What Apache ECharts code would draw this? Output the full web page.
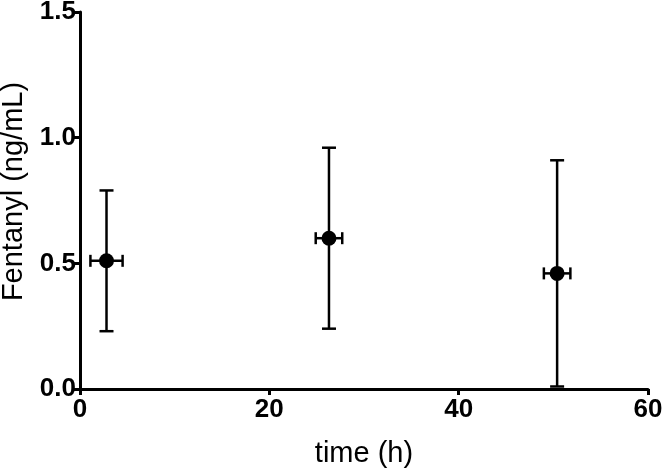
<!DOCTYPE html>
<html>
<head>
<meta charset="utf-8">
<script src="https://cdn.jsdelivr.net/npm/echarts@6/dist/echarts.min.js"></script>
<style>html,body{margin:0;padding:0;background:#fff}#c{width:663px;height:469px}</style>
</head>
<body>
<div id="c"></div>
<script>
var times = [2.8, 26.3, 50.4];
var timeErr = [1.7, 1.4, 1.4];
var means = [0.51, 0.60, 0.46];
var lowers = [0.23, 0.24, 0.01];
var uppers = [0.79, 0.96, 0.91];
var xTicks = [0, 20, 40, 60];
var yTicks = [0.0, 0.5, 1.0, 1.5];

var pts = times.map(function (t, i) { return [t, means[i]]; });
var errData = times.map(function (t, i) { return [t, means[i], timeErr[i], lowers[i], uppers[i]]; });

var chart = echarts.init(document.getElementById('c'));
var FONT = '"Liberation Sans", Arial, sans-serif';
chart.setOption({
  animation: false,
  grid: { left: 80, right: 15, top: 12, bottom: 80, containLabel: false, outerBoundsMode: 'none' },
  xAxis: {
    type: 'value', min: xTicks[0], max: xTicks[xTicks.length - 1], interval: 20,
    name: 'time (h)', nameLocation: 'middle', nameGap: 50,
    nameTextStyle: { fontFamily: FONT, fontSize: 29, color: '#000' },
    axisLine: { show: true, lineStyle: { color: '#000', width: 3 } },
    axisTick: { show: true, length: 6, lineStyle: { color: '#000', width: 3 } },
    axisLabel: { fontFamily: FONT, fontWeight: 'bold', fontSize: 26, color: '#000', margin: 8 },
    splitLine: { show: false }
  },
  yAxis: {
    type: 'value', min: yTicks[0], max: yTicks[yTicks.length - 1], interval: 0.5,
    name: 'Fentanyl (ng/mL)', nameLocation: 'middle', nameGap: 52,
    nameTextStyle: { fontFamily: FONT, fontSize: 29, color: '#000', padding: [0, 0, 0, 18] },
    axisLine: { show: true, lineStyle: { color: '#000', width: 3 } },
    axisTick: { show: true, length: 6, lineStyle: { color: '#000', width: 3 } },
    axisLabel: { fontFamily: FONT, fontWeight: 'bold', fontSize: 26, color: '#000', margin: 4,
      formatter: function (v) { return v.toFixed(1); } },
    splitLine: { show: false }
  },
  series: [
    {
      type: 'custom',
      data: errData,
      z: 3,
      renderItem: function (params, api) {
        var x = api.value(0), y = api.value(1), xe = api.value(2), lo = api.value(3), hi = api.value(4);
        var pLo = api.coord([x, lo]);
        var pHi = api.coord([x, hi]);
        var pL = api.coord([x - xe, y]);
        var pR = api.coord([x + xe, y]);
        var cw = 7, ch = 6;
        var st = { stroke: '#000', lineWidth: 2.5 };
        return {
          type: 'group',
          children: [
            { type: 'line', shape: { x1: pLo[0], y1: pLo[1], x2: pHi[0], y2: pHi[1] }, style: st },
            { type: 'line', shape: { x1: pLo[0] - cw, y1: pLo[1], x2: pLo[0] + cw, y2: pLo[1] }, style: st },
            { type: 'line', shape: { x1: pHi[0] - cw, y1: pHi[1], x2: pHi[0] + cw, y2: pHi[1] }, style: st },
            { type: 'line', shape: { x1: pL[0], y1: pL[1], x2: pR[0], y2: pR[1] }, style: st },
            { type: 'line', shape: { x1: pL[0], y1: pL[1] - ch, x2: pL[0], y2: pL[1] + ch }, style: st },
            { type: 'line', shape: { x1: pR[0], y1: pR[1] - ch, x2: pR[0], y2: pR[1] + ch }, style: st }
          ]
        };
      }
    },
    {
      type: 'scatter',
      data: pts,
      symbol: 'circle',
      symbolSize: 15,
      itemStyle: { color: '#000', opacity: 1 },
      z: 4
    }
  ]
});
</script>
</body>
</html>
